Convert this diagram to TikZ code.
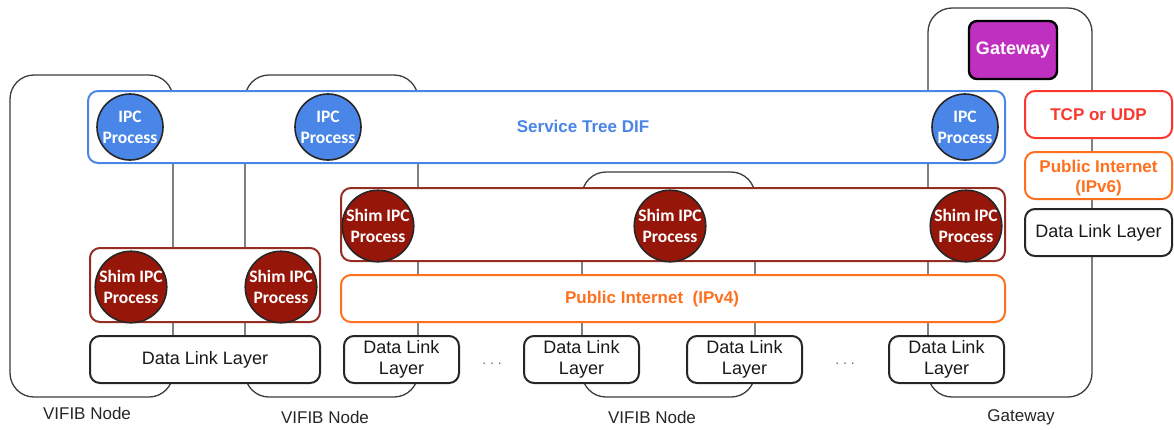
\documentclass[tikz,border=0pt]{standalone}
\usepackage{fontspec}
\setmainfont{Liberation Sans}
\newfontfamily\circfont{Carlito}
\usetikzlibrary{positioning}
\definecolor{difblue}{RGB}{74,134,232}
\definecolor{shimred}{RGB}{150,22,10}
\definecolor{shimedge}{RGB}{150,45,35}
\definecolor{netorange}{RGB}{255,112,30}
\definecolor{tcpred}{RGB}{250,55,45}
\definecolor{gwpurple}{RGB}{192,48,192}
\definecolor{hostgray}{RGB}{60,60,60}

\tikzset{
  hostbox/.style={rectangle, draw=hostgray, line width=1.3pt, rounded corners=24pt, inner sep=0pt},
  layerbox/.style={rectangle, draw, fill=white, line width=2pt, rounded corners=10pt, inner sep=0pt},
  proc/.style={circle, draw=black!85, line width=1.6pt, inner sep=0pt, minimum size=66pt, text=white, align=center, font=\circfont\bfseries\fontsize{17.5}{21}\selectfont},
  dll/.style={layerbox, draw=black!85, minimum width=115pt, minimum height=47pt, align=center, text=black!90, font=\fontsize{18}{21}\selectfont},
  hostlabel/.style={text=black!85, font=\fontsize{17}{20}\selectfont},
  boldlabel/.style={font=\bfseries\fontsize{17}{20}\selectfont, align=center},
}

\begin{document}
\begin{tikzpicture}[x=1pt, y=-1pt]
	\useasboundingbox (0,0) rectangle (1174,429);

	% the hosts
	\node[hostbox, minimum width=163pt, minimum height=322pt] (vn1) at (91.5,236) {};
	\node[hostbox, minimum width=173pt, minimum height=322pt] (vn2) at (331.5,236) {};
	\node[hostbox, minimum width=173pt, minimum height=225pt] (vn3) at (668.5,284.5) {};
	\node[hostbox, minimum width=164pt, minimum height=389pt] (gwh) at (1010,202.5) {};

	\node[hostlabel] (l1) at (87,413) {VIFIB Node};
	\node[hostlabel] (l2) at (325,417) {VIFIB Node};
	\node[hostlabel] (l3) at (652,417) {VIFIB Node};
	\node[hostlabel] (l4) at (1021,417) {Gateway};

	% service tree DIF
	\node[layerbox, draw=difblue, minimum width=917pt, minimum height=72pt] (dif) at (546.5,127) {};
	\node[boldlabel, difblue] (difl) at (583,126) {Service Tree DIF};
	\node[proc, fill=difblue] (ipc1) at (130,127) {IPC\\Process};
	\node[proc, fill=difblue] (ipc2) at (328,127) {IPC\\Process};
	\node[proc, fill=difblue] (ipc3) at (965,127) {IPC\\Process};

	% shim DIF over the internet
	\node[layerbox, draw=shimedge, minimum width=664pt, minimum height=73pt] (shim) at (673,224.5) {};
	\node[proc, fill=shimred] (s1) at (378,226) {Shim IPC\\Process};
	\node[proc, fill=shimred] (s2) at (670,226) {Shim IPC\\Process};
	\node[proc, fill=shimred] (s3) at (966,226) {Shim IPC\\Process};

	% shim DIF inside the first hosts
	\node[layerbox, draw=shimedge, minimum width=230pt, minimum height=74pt] (shimb) at (205,285) {};
	\node[proc, fill=shimred] (s4) at (131,287) {Shim IPC\\Process};
	\node[proc, fill=shimred] (s5) at (281,287) {Shim IPC\\Process};

	\node[layerbox, draw=netorange, minimum width=664pt, minimum height=47pt] (pi4) at (673,298.5) {};
	\node[boldlabel, netorange] (pi4l) at (652,299) {Public Internet\ \ (IPv4)};

	% data link layers
	\node[dll, minimum width=230pt] (d0) at (205,359.5) {Data Link Layer};
	\node[dll] (d1) at (401.5,359.5) {Data Link\\Layer};
	\node[dll] (d2) at (581.5,359.5) {Data Link\\Layer};
	\node[dll] (d3) at (744.5,359.5) {Data Link\\Layer};
	\node[dll] (d4) at (946.5,359.5) {Data Link\\Layer};
	\node[text=black!60, font=\fontsize{14}{16}\selectfont] (dots1) at (492,364) {.\ .\ .};
	\node[text=black!60, font=\fontsize{14}{16}\selectfont] (dots2) at (845,364) {.\ .\ .};

	% gateway stack
	\node[rectangle, draw=black, fill=gwpurple, line width=2.4pt, rounded corners=8pt, minimum width=88pt, minimum height=58pt, text=white, font=\bfseries\fontsize{18}{20}\selectfont] (gw) at (1013,50) {Gateway};
	\node[layerbox, draw=tcpred, minimum width=147pt, minimum height=47pt, boldlabel, text=tcpred] (tcp) at (1098.5,114.5) {TCP or UDP};
	\node[layerbox, draw=netorange, minimum width=147pt, minimum height=47pt, below=12pt of tcp] (pi6) {};
	\node[boldlabel, netorange] (pi6l) at (1098.5,178) {Public Internet\\(IPv6)};
	\node[dll, minimum width=147pt, below=8pt of pi6] (dgw) {Data Link Layer};
\end{tikzpicture}
\end{document}
